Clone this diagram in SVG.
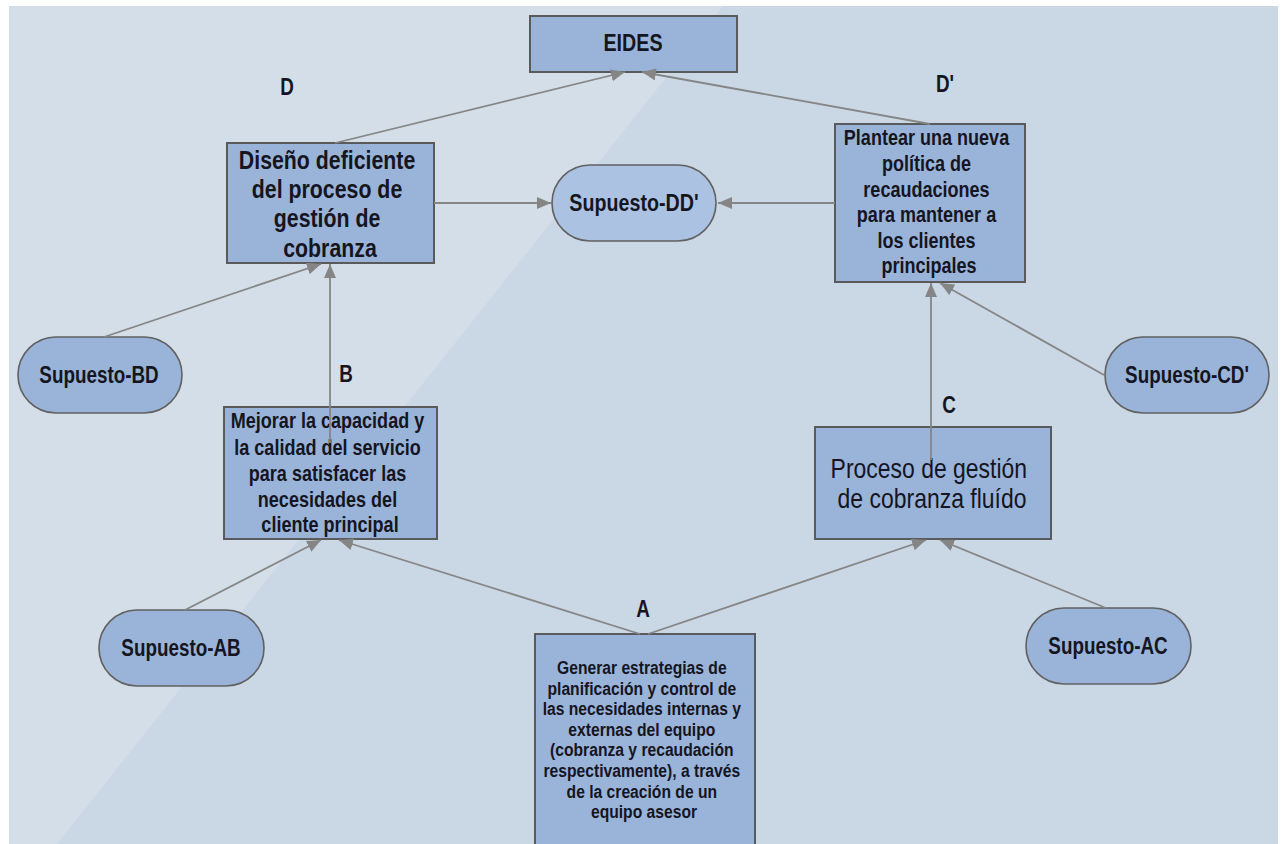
<svg xmlns="http://www.w3.org/2000/svg" width="1284" height="844" viewBox="0 0 1284 844">
  <style>
    .bx { fill: #9ab4d9; stroke: #5a5a5a; stroke-width: 2; }
    .pill { fill: #9ab4d9; stroke: #606060; stroke-width: 1.6; }
    .pill-lt { fill: #acc2e2; stroke: #606060; stroke-width: 1.6; }
    .t { font-family: "Liberation Sans", Arial, sans-serif; font-weight: bold; fill: #15151f; text-anchor: middle; }
    .reg { font-weight: normal; }
    .cn { stroke: #858585; stroke-width: 1.8; fill: none; marker-end: url(#ah); }
  </style>
  <defs>
    <marker id="ah" viewBox="0 0 14 12" refX="14" refY="6" markerWidth="14" markerHeight="12" markerUnits="userSpaceOnUse" orient="auto">
      <path d="M0,0 L14,6 L0,12 z" fill="#858585"/>
    </marker>
  </defs>

  <!-- page background with lighter diagonal band -->
  <rect x="0" y="0" width="1284" height="844" fill="#ffffff"/>
  <rect x="9" y="6" width="1269" height="838" fill="#cad7e4"/>
  <polygon points="9,6 723,6 57,844 9,844" fill="#d4dee8"/>

  <!-- level labels (narrow lettering via horizontal scale) -->
  <g id="labels" class="t" font-size="23">
    <text transform="translate(287 95) scale(0.82 1)">D</text>
    <text transform="translate(945 92) scale(0.82 1)">D'</text>
    <text transform="translate(346 382) scale(0.82 1)">B</text>
    <text transform="translate(949 413) scale(0.82 1)">C</text>
    <text transform="translate(643 617) scale(0.82 1)">A</text>
  </g>

  <g id="eides">
    <rect class="bx" x="530" y="16" width="207" height="56"/>
    <text class="t" font-size="24" transform="translate(633 51) scale(0.82 1)">EIDES</text>
  </g>

  <g id="diseno">
    <rect class="bx" x="227" y="143" width="207" height="120"/>
    <text class="t" font-size="26" transform="translate(330 0) scale(0.82 1)">
      <tspan x="0" y="169">Diseño deficiente</tspan>
      <tspan x="0" y="198">del proceso de</tspan>
      <tspan x="0" y="227">gestión de</tspan>
      <tspan x="0" y="257">cobranza</tspan>
    </text>
  </g>

  <g id="supuesto-dd">
    <rect class="pill-lt" x="552" y="165" width="164" height="76" rx="38" ry="38"/>
    <text class="t" font-size="24" transform="translate(634 211) scale(0.82 1)">Supuesto-DD'</text>
  </g>

  <g id="plantear">
    <rect class="bx" x="835" y="124" width="190" height="158"/>
    <text class="t" font-size="22" transform="translate(929 0) scale(0.82 1)">
      <tspan x="0" y="145">Plantear una nueva</tspan>
      <tspan x="0" y="171">política de</tspan>
      <tspan x="0" y="197">recaudaciones</tspan>
      <tspan x="0" y="222">para mantener a</tspan>
      <tspan x="0" y="248">los clientes</tspan>
      <tspan x="0" y="273">principales</tspan>
    </text>
  </g>

  <g id="supuesto-bd">
    <rect class="pill" x="18" y="337" width="164" height="76" rx="38" ry="38"/>
    <text class="t" font-size="23" transform="translate(99 383) scale(0.82 1)">Supuesto-BD</text>
  </g>

  <g id="supuesto-cd">
    <rect class="pill" x="1105" y="337" width="164" height="76" rx="38" ry="38"/>
    <text class="t" font-size="23" transform="translate(1187 383) scale(0.82 1)">Supuesto-CD'</text>
  </g>

  <g id="mejorar">
    <rect class="bx" x="224" y="407" width="213" height="132"/>
    <text class="t" font-size="22" transform="translate(330 0) scale(0.82 1)">
      <tspan x="0" y="428">Mejorar la capacidad y</tspan>
      <tspan x="0" y="455">la calidad del servicio</tspan>
      <tspan x="0" y="481">para satisfacer las</tspan>
      <tspan x="0" y="507">necesidades del</tspan>
      <tspan x="0" y="532">cliente principal</tspan>
    </text>
  </g>

  <g id="proceso">
    <rect class="bx" x="815" y="427" width="236" height="112"/>
    <text class="t reg" font-size="28" transform="translate(932 0) scale(0.82 1)">
      <tspan x="0" y="478">Proceso de gestión</tspan>
      <tspan x="0" y="508">de cobranza fluído</tspan>
    </text>
  </g>

  <g id="supuesto-ab">
    <rect class="pill" x="99" y="610" width="165" height="76" rx="38" ry="38"/>
    <text class="t" font-size="23" transform="translate(181 656) scale(0.82 1)">Supuesto-AB</text>
  </g>

  <g id="supuesto-ac">
    <rect class="pill" x="1026" y="608" width="165" height="76" rx="38" ry="38"/>
    <text class="t" font-size="23" transform="translate(1108 654) scale(0.82 1)">Supuesto-AC</text>
  </g>

  <g id="generar">
    <rect class="bx" x="535" y="634" width="220" height="214"/>
    <text class="t" font-size="18" transform="translate(644 0) scale(0.87 1)">
      <tspan x="0" y="674">Generar estrategias de</tspan>
      <tspan x="0" y="695">planificación y control de</tspan>
      <tspan x="0" y="715">las necesidades internas y</tspan>
      <tspan x="0" y="736">externas del equipo</tspan>
      <tspan x="0" y="756">(cobranza y recaudación</tspan>
      <tspan x="0" y="777">respectivamente), a través</tspan>
      <tspan x="0" y="798">de la creación de un</tspan>
      <tspan x="0" y="818">equipo asesor</tspan>
    </text>
  </g>

  <!-- connectors, drawn over the boxes -->
  <g id="connectors">
    <path class="cn" d="M335,143 L625,72"/>
    <path class="cn" d="M930,124 L642,72"/>
    <path class="cn" d="M434,203 L551,203"/>
    <path class="cn" d="M835,203 L718,203"/>
    <path class="cn" d="M104,337 L321,264"/>
    <path class="cn" d="M330,443 L330,264"/>
    <path class="cn" d="M1104,375 L940,283"/>
    <path class="cn" d="M931,460 L931,283"/>
    <path class="cn" d="M185,610 L321,540"/>
    <path class="cn" d="M640,634 L339,540"/>
    <path class="cn" d="M648,634 L926,540"/>
    <path class="cn" d="M1106,608 L940,540"/>
  </g>
</svg>
